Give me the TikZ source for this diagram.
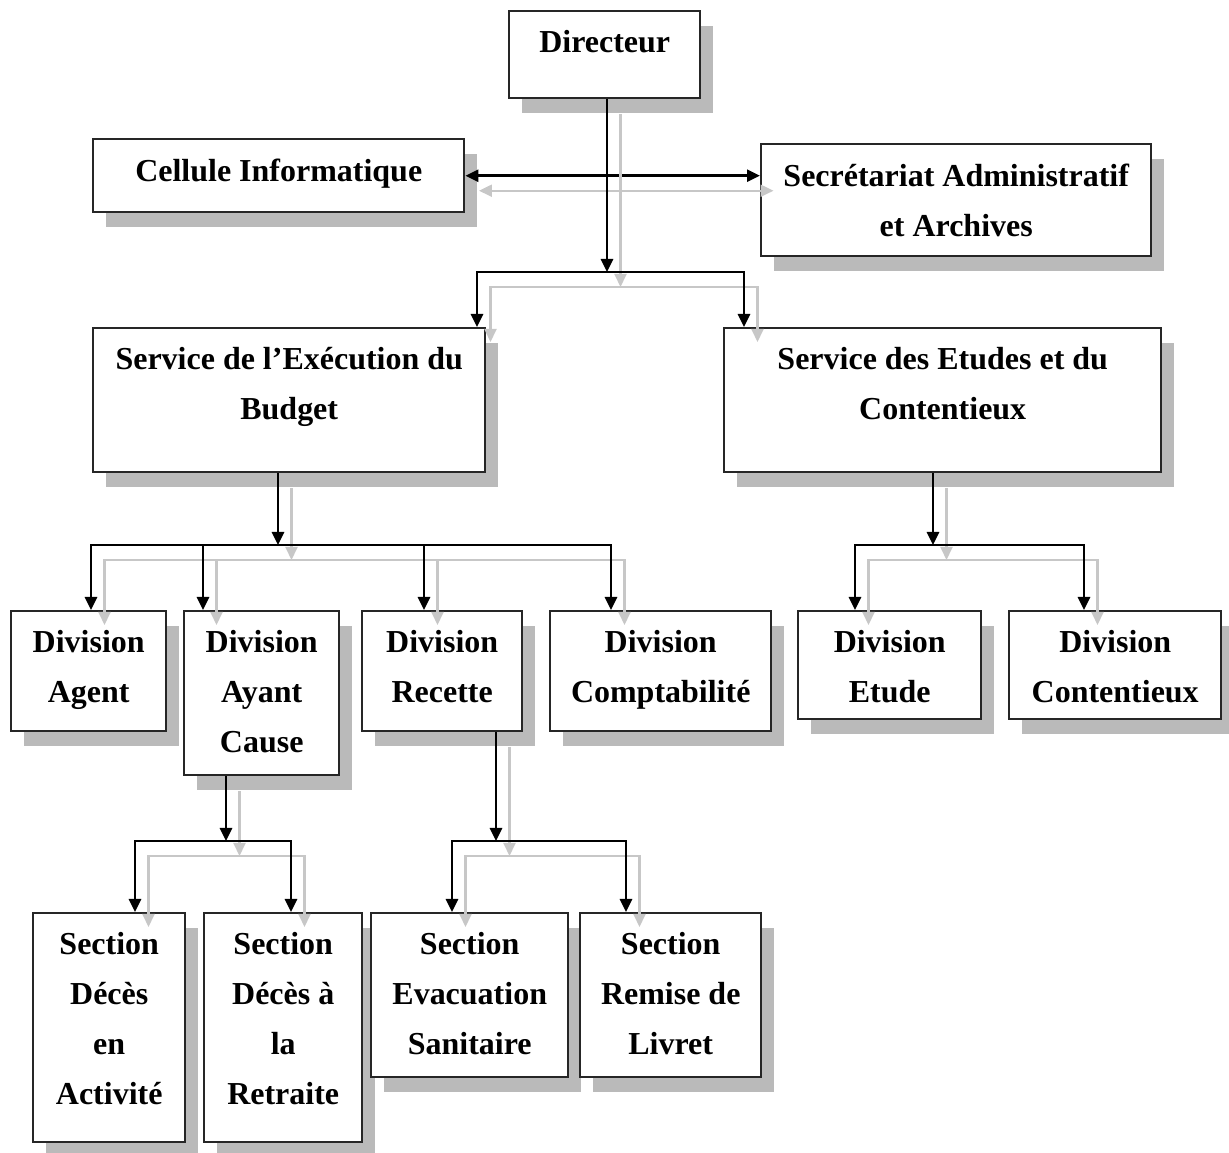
\documentclass[tikz,border=0pt]{standalone}
\usepackage{fontspec}
\setmainfont{Liberation Serif}
\usetikzlibrary{arrows.meta}
\usetikzlibrary{shadows}

\tikzset{
  orgbox/.style={draw=black!85, line width=0.7pt, fill=white, anchor=north west, inner sep=0pt,
    drop shadow={shadow xshift=0.13cm, shadow yshift=-0.15cm, fill=black!27, opacity=1}},
  boxtext/.style={anchor=north, yshift=-0.2cm, align=center, inner sep=0pt,
    font=\fontsize{9.1}{14.2}\selectfont\bfseries},
  link/.style={draw=black, line width=0.75pt},
  linkshadow/.style={draw=black!22, line width=0.6pt, transform canvas={shift={(0.135,-0.15)}}}
}
\newcommand{\orglink}[2][]{\draw[linkshadow,#1] #2; \draw[link,#1] #2;}

\begin{document}
\begin{tikzpicture}[>={Triangle[length=0.13cm,width=0.12cm]}]
				\useasboundingbox (0,0) rectangle (12.29,-11.53);
				
				\node[orgbox, minimum width=1.91cm, minimum height=0.87cm, label={[boxtext]north:Directeur}] (D) at (5.08,-0.10) {};
				\node[orgbox, minimum width=3.71cm, minimum height=0.73cm, label={[boxtext]north:Cellule Informatique}] (CI) at (0.92,-1.38) {};
				\node[orgbox, minimum width=3.90cm, minimum height=1.12cm, label={[boxtext]north:{Secrétariat Administratif\\et Archives}}] (SA) at (7.60,-1.43) {};
				\node[orgbox, minimum width=3.92cm, minimum height=1.44cm, label={[boxtext]north:{Service de l’Exécution du\\Budget}}] (SEB) at (0.92,-3.27) {};
				\node[orgbox, minimum width=4.37cm, minimum height=1.44cm, label={[boxtext]north:{Service des Etudes et du\\Contentieux}}] (SEC) at (7.23,-3.27) {};
				
				\node[orgbox, minimum width=1.55cm, minimum height=1.20cm, label={[boxtext]north:{Division\\Agent}}] (DA) at (0.10,-6.10) {};
				\node[orgbox, minimum width=1.55cm, minimum height=1.64cm, label={[boxtext]north:{Division\\Ayant\\Cause}}] (DAC) at (1.83,-6.10) {};
				\node[orgbox, minimum width=1.60cm, minimum height=1.20cm, label={[boxtext]north:{Division\\Recette}}] (DR) at (3.61,-6.10) {};
				\node[orgbox, minimum width=2.21cm, minimum height=1.20cm, label={[boxtext]north:{Division\\Comptabilité}}] (DC) at (5.49,-6.10) {};
				\node[orgbox, minimum width=1.83cm, minimum height=1.08cm, label={[boxtext]north:{Division\\Etude}}] (DE) at (7.97,-6.10) {};
				\node[orgbox, minimum width=2.12cm, minimum height=1.08cm, label={[boxtext]north:{Division\\Contentieux}}] (DCT) at (10.08,-6.10) {};
				
				\node[orgbox, minimum width=1.52cm, minimum height=2.29cm, label={[boxtext]north:{Section\\Décès\\en\\Activité}}] (SDA) at (0.32,-9.12) {};
				\node[orgbox, minimum width=1.58cm, minimum height=2.29cm, label={[boxtext]north:{Section\\Décès à\\la\\Retraite}}] (SDR) at (2.03,-9.12) {};
				\node[orgbox, minimum width=1.97cm, minimum height=1.64cm, label={[boxtext]north:{Section\\Evacuation\\Sanitaire}}] (SES) at (3.70,-9.12) {};
				\node[orgbox, minimum width=1.81cm, minimum height=1.64cm, label={[boxtext]north:{Section\\Remise de\\Livret}}] (SRL) at (5.79,-9.12) {};
				
				\coordinate (J1) at (6.07,-2.72);
				\coordinate (B1) at (4.77,-2.72);
				\coordinate (B2) at (7.44,-2.72);
				\coordinate (J2) at (2.78,-5.45);
				\coordinate (B3) at (0.91,-5.45);
				\coordinate (B4) at (2.03,-5.45);
				\coordinate (B5) at (4.24,-5.45);
				\coordinate (B6) at (6.11,-5.45);
				\coordinate (J3) at (9.33,-5.45);
				\coordinate (B7) at (8.55,-5.45);
				\coordinate (B8) at (10.84,-5.45);
				\coordinate (J4) at (2.26,-8.41);
				\coordinate (B9) at (1.35,-8.41);
				\coordinate (B10) at (2.91,-8.41);
				\coordinate (J5) at (4.96,-8.41);
				\coordinate (B11) at (4.52,-8.41);
				\coordinate (B12) at (6.26,-8.41);
				
				\orglink[<->]{(CI.east) -- (CI.east -| SA.west)}
				\orglink[->]{(D.south -| J1) -- (J1)}
				\orglink[<->]{(B1 |- SEB.north) -- (B1) -- (B2) -- (B2 |- SEC.north)}
				
				\orglink[->]{(SEB.south -| J2) -- (J2)}
				\orglink[<->]{(B3 |- DA.north) -- (B3) -- (B6) -- (B6 |- DC.north)}
				\orglink[->]{(B4) -- (B4 |- DAC.north)}
				\orglink[->]{(B5) -- (B5 |- DR.north)}
				
				\orglink[->]{(SEC.south -| J3) -- (J3)}
				\orglink[<->]{(B7 |- DE.north) -- (B7) -- (B8) -- (B8 |- DCT.north)}
				
				\orglink[->]{(DAC.south -| J4) -- (J4)}
				\orglink[<->]{(B9 |- SDA.north) -- (B9) -- (B10) -- (B10 |- SDR.north)}
				
				\orglink[->]{(DR.south -| J5) -- (J5)}
				\orglink[<->]{(B11 |- SES.north) -- (B11) -- (B12) -- (B12 |- SRL.north)}
			\end{tikzpicture}
\end{document}
